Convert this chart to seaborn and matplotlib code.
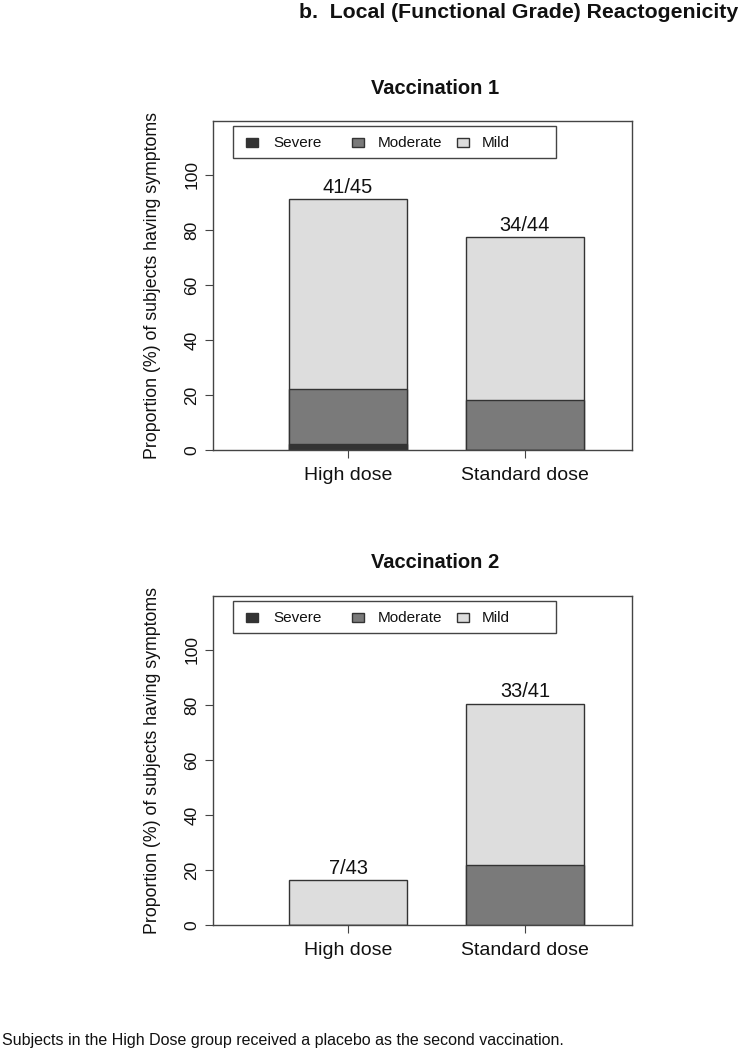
import matplotlib
matplotlib.use("Agg")
import matplotlib.pyplot as plt
import seaborn as sns
import numpy as np
import pandas as pd
from matplotlib.patches import Rectangle

sns.set_style("white")
plt.rcParams['font.family'] = ['Liberation Sans', 'DejaVu Sans']

# ---- data ----
groups = ["High dose", "Standard dose"]
levels = ["Severe", "Moderate", "Mild"]
level_colors = ["#333333", "#7a7a7a", "#dddddd"]

v1_severe = [2.22, 0.0]
v1_moderate = [20.0, 18.18]
v1_mild = [68.89, 59.09]
v1_labels = ["41/45", "34/44"]

v2_severe = [0.0, 0.0]
v2_moderate = [0.0, 21.95]
v2_mild = [16.28, 58.54]
v2_labels = ["7/43", "33/41"]

titles = ["Vaccination 1", "Vaccination 2"]
main_title = "b.  Local (Functional Grade) Reactogenicity"
ylabel = "Proportion (%) of subjects having symptoms"
yticks = [0, 20, 40, 60, 80, 100]
footnote = "Subjects in the High Dose group received a placebo as the second vaccination."

fig = plt.figure(figsize=(7.4, 10.5), dpi=100)

W, H = 740, 1050
AX_L, AX_R, AX_H = 213, 632, 329
AX_W = AX_R - AX_L

def axrect(top):
    bottom = top + AX_H
    return [AX_L / W, 1 - bottom / H, AX_W / W, AX_H / H]

ax1 = fig.add_axes(axrect(121))
ax2 = fig.add_axes(axrect(596))

def fx(px):  # pixel x -> axes fraction
    return (px - AX_L) / AX_W

def fy(dpx):  # pixels below axes top -> axes fraction
    return 1 - dpx / AX_H

edge = "#333333"
text_col = "#111111"
panels = [
    (ax1, v1_severe, v1_moderate, v1_mild, v1_labels, titles[0]),
    (ax2, v2_severe, v2_moderate, v2_mild, v2_labels, titles[1]),
]

for ax, sev, mod, mild, labs, ttl in panels:
    sev = np.array(sev); mod = np.array(mod); mild = np.array(mild)
    tot = sev + mod + mild
    layers = [(tot, level_colors[2]), (sev + mod, level_colors[1]), (sev, level_colors[0])]
    for vals, col in layers:
        df = pd.DataFrame({"group": groups, "value": vals})
        if (df["value"] > 0).sum() == 0:
            continue
        sns.barplot(data=df, x="group", y="value", order=groups, color=col,
                    saturation=1, width=0.667, edgecolor=edge, linewidth=1.0,
                    ax=ax, errorbar=None)
    for i, (t, lab) in enumerate(zip(tot, labs)):
        ax.annotate(lab, (i, t), xytext=(0, 4.5), textcoords="offset points",
                    ha="center", va="baseline", fontsize=14.4, color=text_col)
    ax.set_xlim(-0.763, 1.605)
    ax.set_ylim(0, 119.6)
    ax.set_yticks(yticks)
    ax.set_yticklabels([str(v) for v in yticks], rotation=90, va="center")
    ax.set_xlabel("")
    ax.set_ylabel(ylabel, fontsize=12.8, color=text_col)
    ax.yaxis.set_label_coords(fx(161), 0.5)
    ax.tick_params(axis="both", direction="out", length=5.8, width=0.8,
                   color="#444444", labelcolor=text_col,
                   left=True, bottom=True)
    ax.tick_params(axis="x", labelsize=14, pad=6.5)
    ax.tick_params(axis="y", labelsize=12.5, pad=4)
    for s in ax.spines.values():
        s.set_visible(True)
        s.set_color("#444444")
        s.set_linewidth(1.0)
    ax.text(0.53, fy(-33), ttl, transform=ax.transAxes, ha="center",
            va="center", fontsize=14.5, fontweight="bold", color=text_col)

    # legend box (R style, equal column widths)
    ax.add_patch(Rectangle((fx(233), fy(37)), fx(556) - fx(233), fy(5) - fy(37),
                           transform=ax.transAxes, facecolor="white",
                           edgecolor="#444444", linewidth=1.0, zorder=5,
                           clip_on=False))
    for lvl, col, px_patch, px_text in zip(levels, level_colors,
                                           [246, 352, 457], [273, 378, 482]):
        ax.add_patch(Rectangle((fx(px_patch), fy(26)), 12 / AX_W, 9 / AX_H,
                               transform=ax.transAxes, facecolor=col,
                               edgecolor=edge, linewidth=1.0, zorder=6))
        ax.text(fx(px_text), fy(22), lvl, transform=ax.transAxes, ha="left",
                va="center", fontsize=11, color=text_col, zorder=6)

fig.text(738 / W, 1 - 12 / H, main_title, ha="right", va="center",
         fontsize=15.3, fontweight="bold", color=text_col)
fig.text(2 / W, 1 - 1040 / H, footnote, ha="left", va="center",
         fontsize=11.5, color=text_col)

fig.savefig("out.png", dpi=100)
